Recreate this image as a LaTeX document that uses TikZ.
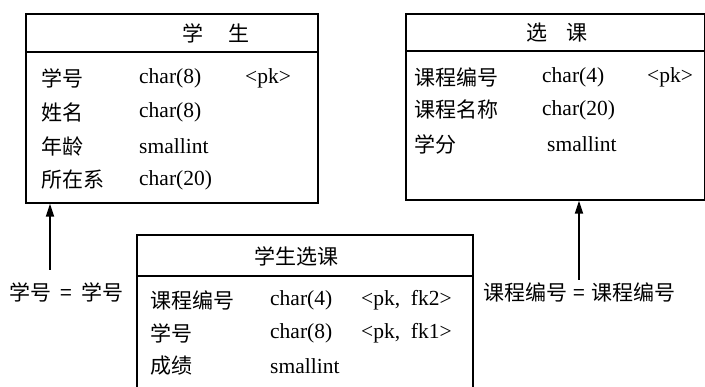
\documentclass[tikz,border=0pt]{standalone}
\usepackage{fontspec}
\setmainfont{Liberation Serif}
\newfontfamily\cjk{Noto Sans CJK SC}
\usetikzlibrary{arrows.meta}
\begin{document}
\begin{tikzpicture}[x=1pt,y=-1pt,
  tbl/.style={draw,line width=1.6pt,anchor=north west,inner sep=0pt},
  sep/.style={line width=1.6pt},
  txt/.style={anchor=west,inner sep=0pt,font=\fontsize{21.5}{24}\selectfont},
  ttl/.style={inner sep=0pt,font=\fontsize{21}{24}\selectfont\cjk},
  zh/.style={anchor=west,inner sep=0pt,font=\fontsize{21}{24}\selectfont\cjk},
  conn/.style={line width=1.8pt,-{Triangle[length=13pt,width=8pt]}}]
\useasboundingbox (0,0) rectangle (705,387);
\clip (0,0) rectangle (705,387);
% table 学生
\node[tbl,minimum width=292pt,minimum height=189pt] (stu) at (25,13) {};
\draw[sep] (25,52) -- (317,52);
\node[ttl] (stuT) at (216,33) {学\hspace{1.2em}生};
\node[zh] (s1a) at (41,78) {学号};
\node[txt] (s1b) at (139,78) {char(8)};
\node[txt] (s1c) at (245,78) {<pk>};
\node[zh] (s2a) at (41,112) {姓名};
\node[txt] (s2b) at (139,112) {char(8)};
\node[zh] (s3a) at (41,146) {年龄};
\node[txt] (s3b) at (139,146) {smallint};
\node[zh] (s4a) at (41,180) {所在系};
\node[txt] (s4b) at (139,180) {char(20)};
% table 选课
\node[tbl,minimum width=299pt,minimum height=186pt] (crs) at (405,13) {};
\draw[sep] (405,51) -- (704,51);
\node[ttl] (crsT) at (557,33) {选\hspace{0.9em}课};
\node[zh] (c1a) at (414,77) {课程编号};
\node[txt] (c1b) at (542,77) {char(4)};
\node[txt] (c1c) at (647,77) {<pk>};
\node[zh] (c2a) at (414,110) {课程名称};
\node[txt] (c2b) at (542,110) {char(20)};
\node[zh] (c3a) at (414,144) {学分};
\node[txt] (c3b) at (547,144) {smallint};
% table 学生选课
\node[tbl,minimum width=336pt,minimum height=180pt] (sc) at (136,234) {};
\draw[sep] (136,276) -- (472,276);
\node[ttl] (scT) at (296,256) {学生选课};
\node[zh] (r1a) at (150,300) {课程编号};
\node[txt] (r1b) at (270,300) {char(4)};
\node[txt] (r1c) at (361,300) {<pk,\hspace{0.5em}fk2>};
\node[zh] (r2a) at (150,333) {学号};
\node[txt] (r2b) at (270,333) {char(8)};
\node[txt] (r2c) at (361,333) {<pk,\hspace{0.5em}fk1>};
\node[zh] (r3a) at (150,366) {成绩};
\node[txt] (r3b) at (270,366) {smallint};
% connectors
\coordinate (a1) at (50,270);
\coordinate (a2) at (579,280);
\draw[conn] (a1) -- (a1 |- stu.south);
\draw[conn] (a2) -- (a2 |- crs.south);
\node[zh] (l1) at (9,292) {学号\hspace{0.45em}=\hspace{0.45em}学号};
\node[zh] (l2) at (483,292) {课程编号\hspace{0.3em}=\hspace{0.3em}课程编号};
\end{tikzpicture}
\end{document}
